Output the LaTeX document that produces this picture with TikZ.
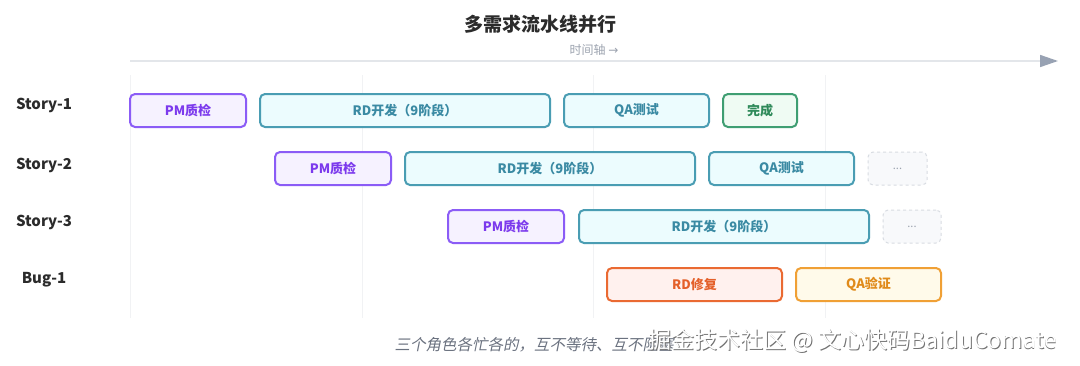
\documentclass[tikz,border=0pt]{standalone}
\usepackage{fontspec}
\setmainfont{Noto Sans CJK SC}
\newfontfamily\capfont[FakeSlant=0.2]{Noto Sans CJK SC}
\newfontfamily\arrfont{DejaVu Sans}
\usetikzlibrary{arrows.meta}
\definecolor{pmB}{HTML}{8B5CF6}\definecolor{pmF}{HTML}{F6F2FF}\definecolor{pmT}{HTML}{7C3AED}
\definecolor{rdB}{HTML}{4A9DB3}\definecolor{rdF}{HTML}{ECFCFE}\definecolor{rdT}{HTML}{3A8AA3}
\definecolor{okB}{HTML}{3F9E72}\definecolor{okF}{HTML}{EFFBF3}\definecolor{okT}{HTML}{2F8A5A}
\definecolor{dtB}{HTML}{D8DCE2}\definecolor{dtF}{HTML}{F8F9FB}\definecolor{dtT}{HTML}{9CA3AF}
\definecolor{fxB}{HTML}{EA6A32}\definecolor{fxF}{HTML}{FFF1EE}\definecolor{fxT}{HTML}{E4602A}
\definecolor{qvB}{HTML}{F0A035}\definecolor{qvF}{HTML}{FFFAEA}\definecolor{qvT}{HTML}{E08A1A}
\definecolor{gridC}{HTML}{F1F2F4}\definecolor{axisC}{HTML}{E3E6EA}\definecolor{tipC}{HTML}{98A2B3}
\definecolor{titleC}{HTML}{2B2B2B}\definecolor{capC}{HTML}{6B7280}
\tikzset{
  box/.style={rounded corners=5pt, line width=2pt, minimum height=33pt, inner sep=0pt, font=\fontsize{13}{15}\selectfont\bfseries},
  pm/.style={box, draw=pmB, fill=pmF, text=pmT},
  rd/.style={box, draw=rdB, fill=rdF, text=rdT},
  ok/.style={box, draw=okB, fill=okF, text=okT},
  dt/.style={box, draw=dtB, fill=dtF, text=dtT, dashed, line width=1pt, font=\fontsize{11}{13}\selectfont},
  fx/.style={box, draw=fxB, fill=fxF, text=fxT},
  qv/.style={box, draw=qvB, fill=qvF, text=qvT},
  rowlab/.style={font=\fontsize{15}{17}\selectfont\bfseries, text=titleC},
  grid/.style={draw=gridC, line width=1pt},
  wmark/.style={anchor=west, font=\fontsize{23}{27}\selectfont},
}
\begin{document}
\begin{tikzpicture}[x=1pt,y=-1pt]
\useasboundingbox[fill=white] (0,0) rectangle (1080,365);
% grid
\foreach \gx/\gn in {130/a,362/b,593/c,825/d}{
  \coordinate (gt\gn) at (\gx,75);
  \coordinate (gb\gn) at (\gx,318);
  \draw[grid] (gt\gn) -- (gb\gn);
}
% title and axis
\node[font=\fontsize{19}{22}\selectfont\bfseries, text=titleC] (title) at (540,24) {多需求流水线并行};
\node[font=\fontsize{12}{14}\selectfont, text=dtT] (axlab) at (594,50) {时间轴 {\arrfont →}};
\coordinate (ax0) at (130,61);
\coordinate (ax1) at (1058,61);
\draw[draw=axisC, line width=1.5pt, -{Triangle[length=18pt,width=12pt,fill=tipC,color=tipC]}] (ax0) -- (ax1);
% row labels
\node[rowlab] (l1) at (44,105) {Story-1};
\node[rowlab] (l2) at (44,165) {Story-2};
\node[rowlab] (l3) at (44,222) {Story-3};
\node[rowlab] (l4) at (44,280) {Bug-1};
% row 1
\node[pm, minimum width=116pt] (a1) at (188,110.5) {PM质检};
\node[rd, minimum width=290pt] (a2) at (405,110.5) {RD开发（9阶段）};
\node[rd, minimum width=145pt] (a3) at (636.5,110.5) {QA测试};
\node[ok, minimum width=74pt] (a4) at (760,110.5) {完成};
% row 2
\node[pm, minimum width=116pt] (b1) at (333,168.5) {PM质检};
\node[rd, minimum width=290pt] (b2) at (550,168.5) {RD开发（9阶段）};
\node[rd, minimum width=145pt] (b3) at (781.5,168.5) {QA测试};
\node[dt, minimum width=59pt] (b4) at (897.5,168.5) {...};
% row 3
\node[pm, minimum width=116pt] (c1) at (506,226.5) {PM质检};
\node[rd, minimum width=290pt] (c2) at (724,226.5) {RD开发（9阶段）};
\node[dt, minimum width=58pt] (c3) at (912,226.5) {...};
% row 4
\node[fx, minimum width=175pt] (d1) at (694.5,284.5) {RD修复};
\node[qv, minimum width=145pt] (d2) at (868.5,284.5) {QA验证};
% caption
\node[anchor=west, font=\fontsize{15.5}{18}\capfont, text=capC] (cap) at (391,345) {三个角色各忙各的，互不等待、互不阻塞};
% watermark
\node[wmark, text=black!55] (wms) at (645.8,341.8) {掘金技术社区 @ 文心快码BaiduComate};
\node[wmark, text=white] (wm) at (645,341) {掘金技术社区 @ 文心快码BaiduComate};
\end{tikzpicture}
\end{document}
